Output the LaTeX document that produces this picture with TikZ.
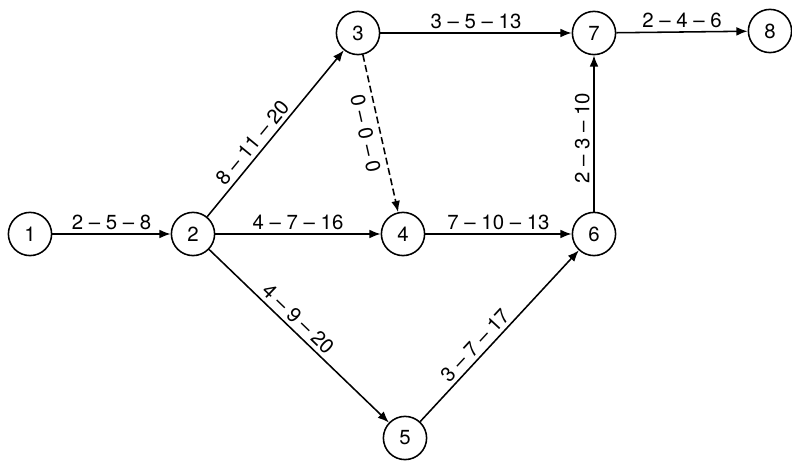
\documentclass[tikz,border=0pt]{standalone}
\usepackage{fontspec}
\setmainfont{TeX Gyre Heros}
\usetikzlibrary{arrows.meta}
\begin{document}
\begin{tikzpicture}[x=0.025cm,y=0.025cm,
  ev/.style={circle,draw,line width=1.1pt,minimum size=1.08cm,inner sep=0pt,font=\fontsize{14.5}{16}\selectfont},
  act/.style={line width=1.1pt,-{Latex[length=2.8mm,width=2.2mm]}},
  dum/.style={act,dash pattern=on 5pt off 2.5pt},
  lab/.style={font=\fontsize{14.5}{16}\selectfont,inner sep=2.5pt}]
\useasboundingbox (0,0) rectangle (792,467);
\node[ev] (n1) at (30,233) {1};
\node[ev] (n2) at (193,233) {2};
\node[ev] (n3) at (358,434) {3};
\node[ev] (n4) at (403,233) {4};
\node[ev] (n5) at (405,29) {5};
\node[ev] (n6) at (594,233) {6};
\node[ev] (n7) at (594,434) {7};
\node[ev] (n8) at (770,436) {8};
\draw[act] (n1) -- node[lab,above] {2 – 5 – 8} (n2);
\draw[act] (n2) -- node[lab,above,sloped,pos=0.4] {8 – 11 – 20} (n3);
\draw[act] (n2) -- node[lab,above] {4 – 7 – 16} (n4);
\draw[act] (n2) -- node[lab,above,sloped,pos=0.45] {4 – 9 – 20} (n5);
\draw[act] (n3) -- node[lab,above] {3 – 5 – 13} (n7);
\draw[dum] (n3) -- node[lab,below,sloped,pos=0.48,inner sep=4.5pt] {0 – 0 – 0} (n4);
\draw[act] (n4) -- node[lab,above] {7 – 10 – 13} (n6);
\draw[act] (n5) -- node[lab,above,sloped,pos=0.4] {3 – 7 – 17} (n6);
\draw[act] (n6) -- node[lab,above,sloped,pos=0.47] {2 – 3 – 10} (n7);
\draw[act] (n7) -- node[lab,above] {2 – 4 – 6} (n8);
\end{tikzpicture}
\end{document}
